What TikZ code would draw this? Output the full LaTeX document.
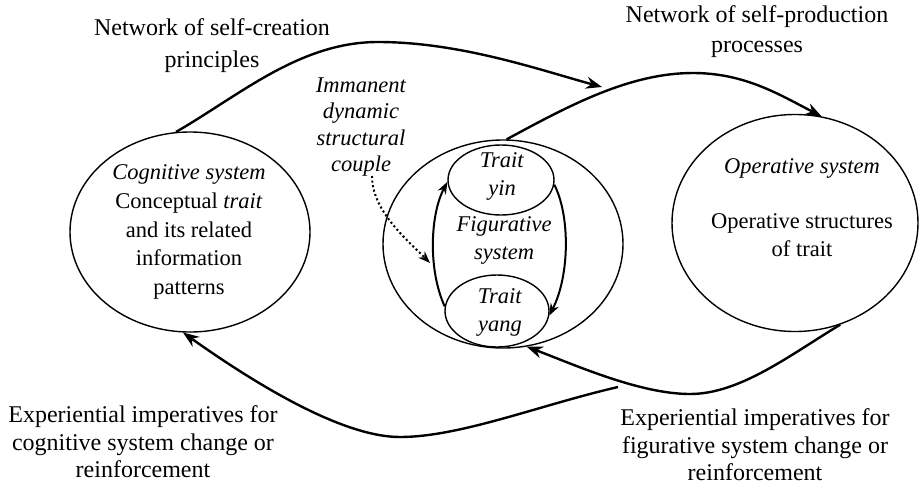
\documentclass[tikz,border=0pt]{standalone}
\usepackage{fontspec}
\setmainfont{Liberation Serif}
\usetikzlibrary{shapes.geometric,arrows.meta}
\begin{document}
\begin{tikzpicture}[x=1pt,y=-1pt,
  every node/.style={font=\fontsize{22.5}{28}\selectfont, align=center, inner sep=0pt},
  oval/.style 2 args={draw, ellipse, line width=1.4pt, minimum width=#1, minimum height=#2, inner sep=0pt},
  flow/.style={line width=2.4pt, -{Stealth[length=16pt,width=12pt]}},
  loopflow/.style={line width=2pt, -{Stealth[length=12pt,width=9pt]}},
  hint/.style={line width=2pt, dash pattern=on 2pt off 2.6pt, -{Stealth[length=12pt,width=9pt]}},
  spread/.style={font=\fontsize{22.5}{#1}\selectfont},
  caption/.style={font=\fontsize{24}{#1}\selectfont}
]
\useasboundingbox (0,0) rectangle (923,488);

% the three systems
\node[oval={240}{200}] (L) at (190,232) {};
\node[oval={240}{208}] (M) at (503,244) {};
\node[oval={106}{70}] (Yin) at (501,180) {};
\node[oval={104}{72}] (Yang) at (497,311) {};
\node[oval={246}{217}] (R) at (795,223) {};

% texts inside the systems
\node[spread=28.75] (tCog) at (189,232) {\textit{Cognitive system}\\Conceptual \textit{trait}\\and its related\\information\\patterns};
\node (tYin) at (502,176) {\textit{Trait}\\\textit{yin}};
\node (tFig) at (504,240) {\textit{Figurative}\\\textit{system}};
\node (tYang) at (500,312) {\textit{Trait}\\\textit{yang}};
\node (tOpS) at (802,168) {\textit{Operative system}};
\node (tOpT) at (802,235) {Operative structures\\of trait};

% free labels
\node[caption=32] (tNetC) at (212,46) {Network of self-creation\\principles};
\node[caption=30] (tNetP) at (757,32) {Network of self-production\\processes};
\node[spread=26.5] (tCouple) at (361,127) {\textit{Immanent}\\\textit{dynamic}\\\textit{structural}\\\textit{couple}};
\node[caption=27.5] (tExpC) at (143,442) {Experiential imperatives for\\cognitive system change or\\reinforcement};
\node[caption=27.5] (tExpF) at (755,445) {Experiential imperatives for\\figurative system change or\\reinforcement};

% loose ends of connectors
\coordinate (p1) at (602,87);
\coordinate (q1) at (618,387);
\coordinate (d0) at (372,176);
\coordinate (d1) at (430,263);

% outer flows
\draw[flow] (L.98) .. controls (240,95) and (300,42) .. (378,42)
                   .. controls (460,42) and (540,70) .. (p1);
\draw[flow] (M.88) .. controls (570,105) and (630,73) .. (693,73)
                   .. controls (745,73) and (780,95) .. (R.76);
\draw[flow] (R.-66) .. controls (790,355) and (740,394) .. (690,394)
                    .. controls (640,394) and (575,365) .. (M.-77);
\draw[flow] (q1) .. controls (540,405) and (460,437) .. (400,437)
                 .. controls (340,437) and (250,380) .. (L.-94);

% yin-yang cycle
\draw[loopflow] (Yang.175) .. controls (428,270) and (430,215) .. (Yin.182);
\draw[loopflow] (Yin.-5) .. controls (570,215) and (570,275) .. (Yang.-5);

% structural couple pointer
\draw[hint] (d0) .. controls (372,210) and (405,238) .. (d1);
\end{tikzpicture}
\end{document}
